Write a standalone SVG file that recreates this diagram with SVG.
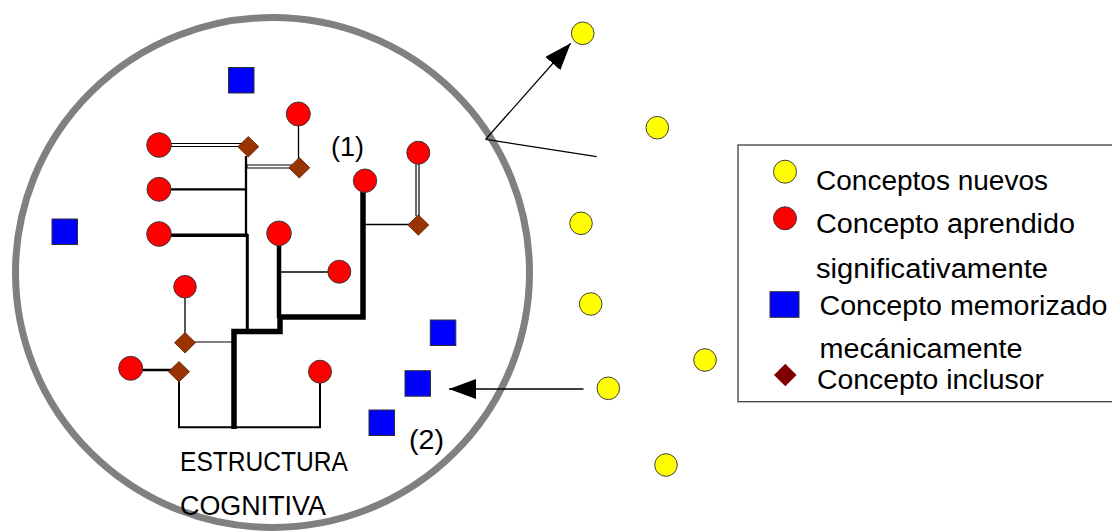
<svg xmlns="http://www.w3.org/2000/svg" width="1112" height="532" viewBox="0 0 1112 532">
<defs>
<style>
.red{fill:#ff0000;stroke:#3a3a3a;stroke-width:1}
.yel{fill:#ffff00;stroke:#404040;stroke-width:1}
.blu{fill:#0000ff;stroke:#303030;stroke-width:1}
.dia{fill:#993300;stroke:#5a2000;stroke-width:0.8}
.ln{fill:none;stroke:#000;stroke-linecap:butt;stroke-linejoin:miter}
.dbl-o{fill:none;stroke:#000;stroke-width:4.2}
.dbl-i{fill:none;stroke:#fff;stroke-width:1.8}
.arr{fill:none;stroke:#000;stroke-width:1.3}
.t{font-family:"Liberation Sans",Arial,sans-serif;font-size:27px;fill:#000}
</style>
<marker id="ah" viewBox="0 0 27 20" refX="27" refY="10" markerWidth="27" markerHeight="20" markerUnits="userSpaceOnUse" orient="auto">
<path d="M0,0 L27,10 L0,20 z" fill="#000"/>
</marker>
</defs>
<rect width="1112" height="532" fill="#fff"/>

<g id="estructura-cognitiva">
<ellipse cx="272.5" cy="272.5" rx="257" ry="255" fill="none" stroke="#808080" stroke-width="7"/>
</g>

<g id="connectors">
<!-- double lines -->
<line class="dbl-o" x1="165" y1="145" x2="242" y2="145"/>
<line class="dbl-i" x1="165" y1="145" x2="242" y2="145"/>
<line class="dbl-o" x1="245" y1="166.5" x2="292" y2="166.5"/>
<line class="dbl-i" x1="247.5" y1="166.5" x2="292" y2="166.5"/>
<line class="dbl-o" x1="417.5" y1="160" x2="417.5" y2="216"/>
<line class="dbl-i" x1="417.5" y1="160" x2="417.5" y2="216"/>
<!-- thin lines -->
<line class="ln" x1="298.5" y1="120" x2="298.5" y2="160" stroke-width="1.3"/>
<line class="ln" x1="363" y1="224.5" x2="410" y2="224.5" stroke-width="1.3"/>
<line class="ln" x1="185" y1="293" x2="185" y2="335" stroke-width="1.3"/>
<line class="ln" x1="192" y1="342" x2="232" y2="342" stroke-width="1.1"/>
<line class="ln" x1="279" y1="272" x2="335" y2="272" stroke-width="1.6"/>
<!-- medium lines -->
<line class="ln" x1="246" y1="156" x2="246" y2="236" stroke-width="2.3"/>
<line class="ln" x1="165" y1="189.3" x2="246" y2="189.3" stroke-width="2.2"/>
<line class="ln" x1="165" y1="235.3" x2="248" y2="235.3" stroke-width="3.6"/>
<line class="ln" x1="247.3" y1="234" x2="247.3" y2="331" stroke-width="3"/>
<line class="ln" x1="279" y1="240" x2="279" y2="318" stroke-width="4.5"/>
<line class="ln" x1="138" y1="370" x2="172" y2="370" stroke-width="2.5"/>
<polyline class="ln" points="179,380 179,427.3 320,427.3 320,380" stroke-width="2"/>
<!-- thick step line -->
<polyline class="ln" points="234,429 234,331.5 280,331.5 280,317 363,317 363,188" stroke-width="5.5"/>
<!-- arrows -->
<line class="arr" x1="485.7" y1="139.3" x2="570.7" y2="43.3" marker-end="url(#ah)"/>
<line class="arr" x1="485.7" y1="139.3" x2="596.7" y2="156.7"/>
<line class="arr" x1="583.5" y1="389" x2="449" y2="389" marker-end="url(#ah)"/>
</g>

<g id="conceptos-aprendidos">
<circle id="c1" class="red" cx="298.3" cy="114" r="12"/>
<circle id="c2" class="red" cx="159" cy="145" r="12.3"/>
<circle id="c3" class="red" cx="159" cy="189.3" r="12"/>
<circle id="c4" class="red" cx="159" cy="234" r="12.3"/>
<circle id="c5" class="red" cx="418.3" cy="152.7" r="11.5"/>
<circle id="c6" class="red" cx="365" cy="180.7" r="11.7"/>
<circle id="c7" class="red" cx="279" cy="233.3" r="12.3"/>
<circle id="c8" class="red" cx="339.3" cy="271.7" r="11.5"/>
<circle id="c9" class="red" cx="185" cy="286.7" r="11.3"/>
<circle id="c10" class="red" cx="130.7" cy="368.3" r="12"/>
<circle id="c11" class="red" cx="320" cy="371.7" r="11.5"/>
</g>

<g id="conceptos-inclusores">
<path id="d1" class="dia" d="M248.3,136.5 L258.8,146.7 L248.3,157 L237.8,146.7 Z"/>
<path id="d2" class="dia" d="M299.3,157.5 L309.8,167.7 L299.3,178 L288.8,167.7 Z"/>
<path id="d3" class="dia" d="M418.3,214.8 L428.8,225 L418.3,235.2 L407.8,225 Z"/>
<path id="d4" class="dia" d="M185,332.5 L195.5,342.7 L185,353 L174.5,342.7 Z"/>
<path id="d5" class="dia" d="M179,361.5 L189.5,371.7 L179,382 L168.5,371.7 Z"/>
</g>

<g id="conceptos-memorizados">
<rect id="m1" class="blu" x="228.5" y="67.5" width="25.5" height="25.5"/>
<rect id="m2" class="blu" x="52" y="219" width="25.5" height="25.5"/>
<rect id="m3" class="blu" x="430.3" y="320" width="25.5" height="25.5"/>
<rect id="m4" class="blu" x="405" y="370.7" width="25.5" height="25.5"/>
<rect id="m5" class="blu" x="369" y="410" width="25.5" height="25.5"/>
</g>

<g id="conceptos-nuevos">
<circle id="n1" class="yel" cx="582.7" cy="33.3" r="11.3"/>
<circle id="n2" class="yel" cx="657.3" cy="127.7" r="11.3"/>
<circle id="n3" class="yel" cx="581" cy="223.3" r="11.3"/>
<circle id="n4" class="yel" cx="590.7" cy="304" r="11.3"/>
<circle id="n5" class="yel" cx="705" cy="360" r="11.3"/>
<circle id="n6" class="yel" cx="608.3" cy="388.3" r="11.3"/>
<circle id="n7" class="yel" cx="666" cy="465" r="11.3"/>
</g>

<g id="labels">
<text class="t" x="331" y="156" textLength="33" lengthAdjust="spacingAndGlyphs">(1)</text>
<text class="t" x="409" y="449" textLength="35" lengthAdjust="spacingAndGlyphs">(2)</text>
<text class="t" x="180" y="471" textLength="168" lengthAdjust="spacingAndGlyphs">ESTRUCTURA</text>
<text class="t" x="180" y="515" textLength="146" lengthAdjust="spacingAndGlyphs">COGNITIVA</text>
</g>

<g id="leyenda">
<rect x="738" y="145" width="380" height="256.7" fill="#fff" stroke="#404040" stroke-width="1.3"/>
<circle class="yel" cx="785" cy="171.7" r="11.5"/>
<circle class="red" cx="785" cy="218.3" r="11.5"/>
<rect class="blu" x="770" y="291.7" width="29" height="25.6"/>
<path d="M785.3,363.7 L796.6,375 L785.3,386.3 L774,375 Z" fill="#800000"/>
<text class="t" x="816" y="190" textLength="232" lengthAdjust="spacingAndGlyphs">Conceptos nuevos</text>
<text class="t" x="816" y="233" textLength="259" lengthAdjust="spacingAndGlyphs">Concepto aprendido</text>
<text class="t" x="816" y="277.5" textLength="232" lengthAdjust="spacingAndGlyphs">significativamente</text>
<text class="t" x="819.5" y="314.5" textLength="288" lengthAdjust="spacingAndGlyphs">Concepto memorizado</text>
<text class="t" x="819.5" y="358" textLength="203" lengthAdjust="spacingAndGlyphs">mecánicamente</text>
<text class="t" x="817" y="389" textLength="227" lengthAdjust="spacingAndGlyphs">Concepto inclusor</text>
</g>
</svg>
